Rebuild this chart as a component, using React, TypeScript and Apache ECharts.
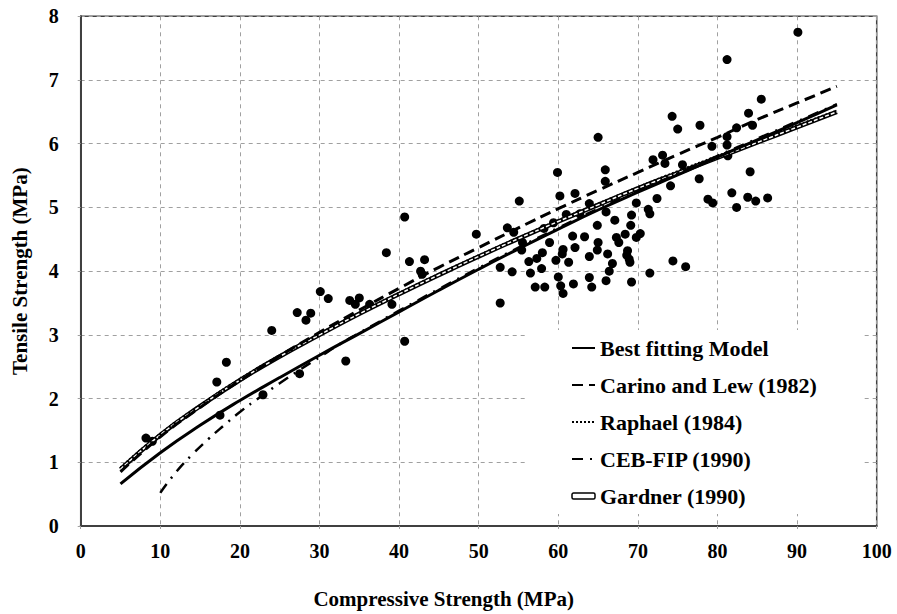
import React, { useEffect, useRef } from "react";
import * as echarts from "echarts";

const FONT = "'Liberation Serif', 'Times New Roman', serif";

// Curve sample positions (MPa)
const CURVE_X = [5, 10, 15, 20, 25, 30, 35, 40, 45, 50, 55, 60, 65, 70, 75, 80, 85, 90, 95];
const BEST_FIT = [0.66, 1.15, 1.58, 1.97, 2.33, 2.68, 3.02, 3.36, 3.7, 4.03, 4.35, 4.66, 4.96, 5.24, 5.51, 5.79, 6.06, 6.33, 6.61];
const CARINO = [0.85, 1.4, 1.86, 2.28, 2.67, 3.04, 3.39, 3.73, 4.06, 4.37, 4.68, 4.98, 5.27, 5.55, 5.83, 6.1, 6.38, 6.64, 6.9];
const RAPHAEL = [0.92, 1.45, 1.9, 2.31, 2.68, 3.02, 3.35, 3.66, 3.96, 4.25, 4.53, 4.8, 5.06, 5.32, 5.57, 5.81, 6.05, 6.29, 6.52];
const GARDNER = [0.89, 1.43, 1.88, 2.29, 2.66, 3.0, 3.33, 3.64, 3.94, 4.23, 4.51, 4.78, 5.04, 5.3, 5.54, 5.78, 6.02, 6.26, 6.5];
const CEB_X = [10, 12, 14, 16, 18, 20, 22.5, 25, 27.5, 30, 32.5, 35, 40, 45, 50, 55, 60, 65, 70, 75, 80, 85, 90, 95];
const CEB_FIP = [0.52, 0.85, 1.12, 1.36, 1.58, 1.79, 2.02, 2.24, 2.45, 2.65, 2.85, 3.03, 3.38, 3.72, 4.05, 4.37, 4.68, 4.98, 5.26, 5.53, 5.81, 6.08, 6.35, 6.62];

// Experimental data
const EXP_FC = [
  8.2, 9.0, 17.5, 17.1, 18.3, 22.9, 24.0, 27.5, 27.2, 28.3, 28.9, 30.1, 31.1, 33.3, 33.8, 34.5, 35.0, 36.3, 38.4, 39.1,
  40.7, 40.7, 41.3, 42.7, 42.9, 43.2, 49.7, 52.7, 52.7, 53.6, 54.4, 54.2, 55.1, 55.5, 55.4, 56.3, 56.5, 57.3, 57.1, 58.3,
  57.9, 58.0, 59.4, 58.2, 58.9, 60.2, 59.9, 61.0, 61.8, 60.6, 60.5, 62.1, 59.7, 61.3, 60.0, 60.3, 60.6, 61.9, 62.1, 62.7,
  63.3, 63.9, 64.9, 65.9, 65.9, 66.0, 65.0, 64.9, 63.9, 66.2, 66.8, 66.4, 63.9, 64.2, 66.0, 67.1, 68.6, 68.9, 68.7, 69.2,
  69.0, 68.4, 67.3, 67.6, 69.1, 69.2, 69.8, 70.3, 69.8, 71.3, 71.5, 71.5, 72.4, 71.9, 73.1, 73.4, 74.1, 74.4, 76.0, 75.6,
  77.7, 78.8, 79.4, 90.1, 81.2, 85.5, 83.9, 82.4, 84.4, 77.8, 81.2, 81.2, 79.3, 81.3, 84.1, 81.8, 82.4, 83.8, 84.8, 86.3,
  65.0, 74.3, 75.0,
];
const EXP_FT = [
  1.38, 1.33, 1.74, 2.26, 2.57, 2.06, 3.07, 2.39, 3.35, 3.23, 3.34, 3.68, 3.57, 2.59, 3.54, 3.48, 3.58, 3.48, 4.29, 3.48,
  2.9, 4.85, 4.15, 4.0, 3.95, 4.18, 4.58, 4.06, 3.5, 4.68, 4.61, 3.99, 5.1, 4.45, 4.33, 4.15, 3.97, 4.2, 3.75, 3.75,
  4.04, 4.29, 4.76, 4.67, 4.45, 5.18, 5.55, 4.89, 4.55, 4.34, 4.27, 4.37, 4.17, 4.14, 3.91, 3.77, 3.65, 3.8, 5.22, 4.9,
  4.54, 5.06, 4.72, 5.59, 5.41, 4.93, 4.45, 4.33, 4.23, 4.27, 4.12, 4.0, 3.9, 3.75, 3.85, 4.8, 4.25, 4.19, 4.32, 3.83,
  4.14, 4.58, 4.53, 4.45, 4.72, 4.88, 5.07, 4.59, 4.53, 4.97, 4.9, 3.97, 5.14, 5.75, 5.82, 5.69, 5.34, 4.16, 4.07, 5.67,
  5.45, 5.13, 5.07, 7.75, 7.32, 6.7, 6.48, 6.25, 6.29, 6.29, 6.11, 5.98, 5.96, 5.81, 5.56, 5.23, 5.0, 5.16, 5.1, 5.15,
  6.1, 6.43, 6.23,
];

const X_TICKS = [0, 10, 20, 30, 40, 50, 60, 70, 80, 90, 100];
const Y_TICKS = [0, 1, 2, 3, 4, 5, 6, 7, 8];

const NAMES = {
  best: "Best fitting Model",
  carino: "Carino and Lew (1982)",
  raphael: "Raphael (1984)",
  ceb: "CEB-FIP (1990)",
  gardner: "Gardner (1990)",
};

const pairs = (xs: number[], ys: number[]) => ys.map((y, i) => [xs[i], y]);

export default function App() {
  const ref = useRef<HTMLDivElement>(null);
  useEffect(() => {
    const chart = echarts.init(ref.current!, null, { renderer: "svg" });
    const gridLine = { show: true, lineStyle: { color: "#a0a0a0", type: [4, 4] as any, width: 1 } };
    const labelStyle = {
      fontFamily: FONT,
      fontWeight: 700,
      fontSize: 20,
      color: "#000",
    };
    const tickLabel = (margin: number) => ({
      ...labelStyle,
      margin,
      formatter: "{t|{value}}",
      rich: { t: { ...labelStyle } },
    });
    const axisCommon = {
      type: "value" as const,
      axisLine: { show: true, onZero: false, lineStyle: { color: "#404040", width: 2 } },
      axisTick: { show: true, inside: false, length: 6, lineStyle: { color: "#a0a0a0", type: [3, 3] as any } },
      splitLine: gridLine,
      nameLocation: "middle" as const,
    };
    chart.setOption({
      animation: false,
      backgroundColor: "#fff",
      textStyle: { fontFamily: FONT, fontWeight: "bold", color: "#000" },
      grid: {
        left: 80.7,
        right: 20.3,
        top: 16.3,
        bottom: 86,
        show: true,
        borderColor: "#404040",
        borderWidth: 1.5,
        backgroundColor: "transparent",
      },
      xAxis: {
        ...axisCommon,
        min: X_TICKS[0],
        max: X_TICKS[X_TICKS.length - 1],
        interval: 10,
        name: "Compressive Strength (MPa)",
        nameGap: 62,
        nameTextStyle: { ...labelStyle, fontSize: 21, padding: [0, 70, 0, 0] },
        axisLabel: tickLabel(15),
      },
      yAxis: {
        ...axisCommon,
        min: Y_TICKS[0],
        max: Y_TICKS[Y_TICKS.length - 1],
        interval: 1,
        name: "Tensile Strength (MPa)",
        nameGap: 50,
        nameTextStyle: { ...labelStyle, fontSize: 21 },
        axisLabel: tickLabel(22),
      },
      legend: {
        orient: "vertical",
        left: 528,
        top: 330,
        backgroundColor: "#fff",
        padding: [7, 45, 7, 43],
        itemWidth: 23,
        itemHeight: 6,
        itemGap: 15,
        textStyle: { fontFamily: FONT, fontWeight: "bold", fontSize: 22, color: "#000" },
        itemStyle: { opacity: 0 },
        data: [
          { name: NAMES.best },
          { name: NAMES.carino },
          { name: NAMES.raphael },
          { name: NAMES.ceb },
          {
            name: NAMES.gardner,
            icon: "roundRect",
            itemStyle: { color: "#fff", borderColor: "#000", borderWidth: 1.5, opacity: 1 },
          },
        ],
      },
      series: [
        {
          type: "scatter",
          name: "Experimental",
          data: pairs(EXP_FC, EXP_FT),
          symbol: "circle",
          symbolSize: 9,
          itemStyle: { color: "#000", opacity: 1 },
          z: 2,
        },
        {
          type: "line",
          name: NAMES.raphael,
          data: pairs(CURVE_X, RAPHAEL),
          symbol: "none",
          smooth: true,
          lineStyle: { color: "#000", width: 2, type: [2, 2] as any },
          z: 3,
        },
        {
          type: "line",
          name: NAMES.gardner,
          data: pairs(CURVE_X, GARDNER),
          symbol: "none",
          smooth: true,
          lineStyle: { color: "#000", width: 4.5 },
          z: 3,
        },
        {
          type: "line",
          name: NAMES.gardner,
          data: pairs(CURVE_X, GARDNER),
          symbol: "none",
          smooth: true,
          lineStyle: { color: "#fff", width: 1.5, type: [4, 2] as any },
          z: 3,
        },
        {
          type: "line",
          name: NAMES.ceb,
          data: pairs(CEB_X, CEB_FIP),
          symbol: "none",
          smooth: true,
          lineStyle: { color: "#000", width: 2.5, type: [11, 7, 2, 7] as any },
          z: 3,
        },
        {
          type: "line",
          name: NAMES.carino,
          data: pairs(CURVE_X, CARINO),
          symbol: "none",
          smooth: true,
          lineStyle: { color: "#000", width: 3, type: [11, 6] as any },
          z: 3,
        },
        {
          type: "line",
          name: NAMES.best,
          data: pairs(CURVE_X, BEST_FIT),
          symbol: "none",
          smooth: true,
          lineStyle: { color: "#000", width: 3 },
          z: 3,
        },
      ],
    });
    return () => chart.dispose();
  }, []);
  return <div ref={ref} style={{ position: "fixed", left: 0, top: 0, width: 897, height: 614 }} />;
}
